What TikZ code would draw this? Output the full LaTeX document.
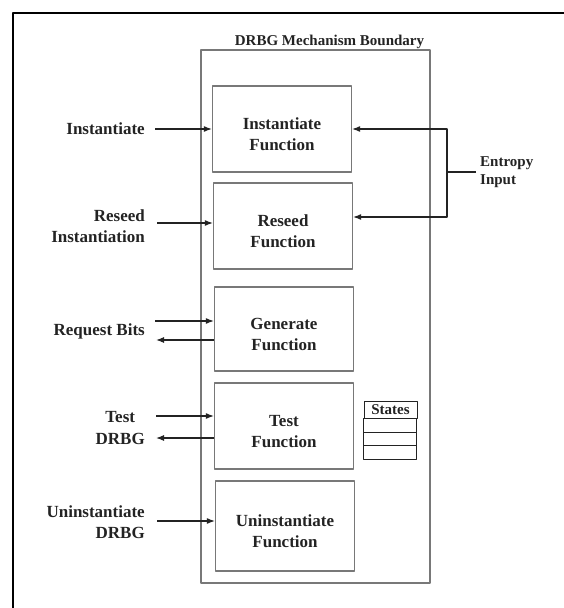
\documentclass[tikz,border=0pt]{standalone}
\usepackage{fontspec}
\setmainfont{Liberation Serif}
\usetikzlibrary{positioning,arrows.meta}
\definecolor{boxgray}{RGB}{120,120,120}
\definecolor{ink}{RGB}{35,35,35}
\tikzset{
  fnbox/.style={draw=boxgray,line width=1.3pt,minimum width=139pt,minimum height=86pt,
    align=center,text height=44pt},
  lbl/.style={anchor=east,align=right,inner sep=0pt},
  conn/.style={draw=ink,line width=1.1pt},
  smallbf/.style={font=\bfseries\fontsize{15}{18}\selectfont}
}
\begin{document}
\begin{tikzpicture}[x=1pt,y=-1pt,>={Latex[length=8pt,width=6pt]},line join=round,text=ink,
    font=\bfseries\fontsize{17}{21.5}\selectfont]
  \useasboundingbox (0,0) rectangle (563,608);
  \draw[line width=2.6pt] (13,610) -- (13,13) -- (565,13);
  % mechanism boundary
  \node[draw=boxgray,line width=1.3pt,minimum width=229pt,minimum height=533pt] (bound) at (315.5,316.5) {};
  \node[smallbf] (title) at (329.5,42) {DRBG Mechanism Boundary};
  % functions
  \node[fnbox] (inst) at (282,129) {Instantiate\\Function};
  \node[fnbox] (reseed) at (283,226) {Reseed\\Function};
  \node[fnbox,minimum height=84pt] (gen) at (284,329) {Generate\\Function};
  \node[fnbox] (test) at (284,426) {Test\\Function};
  \node[fnbox,minimum height=90pt] (uninst) at (285,526) {Uninstantiate\\Function};
  % inputs
  \node[lbl] (linst) at (145,129) {Instantiate};
  \node[lbl] (lreseed) at (145,226) {Reseed\\Instantiation};
  \node[lbl] (lreq) at (145,331) {Request Bits};
  \node[lbl,align=center] (ltest) at (145,428) {Test\\DRBG};
  \node[lbl] (luninst) at (145,522) {Uninstantiate\\DRBG};
  \coordinate (resin) at ([yshift=3pt]reseed.west);
  \coordinate (genin) at ([yshift=8pt]gen.west);
  \coordinate (genout) at ([yshift=-11pt]gen.west);
  \coordinate (testin) at ([yshift=10pt]test.west);
  \coordinate (testout) at ([yshift=-12pt]test.west);
  \coordinate (unin) at ([yshift=5pt]uninst.west);
  \draw[conn,->] (inst.west -| linst.east) ++(10,0) -- (inst.west);
  \draw[conn,->] (resin -| lreseed.east) ++(12,0) -- (resin);
  \draw[conn,->] (genin -| lreq.east) ++(10,0) -- (genin);
  \draw[conn,->] (genout) -- ([xshift=11pt]genout -| lreq.east);
  \draw[conn,->] (testin -| ltest.east) ++(11,0) -- (testin);
  \draw[conn,->] (testout) -- ([xshift=11pt]testout -| ltest.east);
  \draw[conn,->] (unin -| luninst.east) ++(12,0) -- (unin);
  % entropy
  \node[smallbf,anchor=west,align=left,inner sep=0pt] (entropy) at (480,172) {Entropy\\Input};
  \coordinate (ej) at ([xshift=-33pt]entropy.west);
  \draw[conn] ([xshift=-4pt]entropy.west) -- (ej);
  \draw[conn,->] (ej) |- (inst.east);
  \draw[conn,->] (ej) |- ([yshift=9pt]reseed.east);
  % states
  \node[smallbf,draw=ink,line width=0.9pt,minimum width=53pt,minimum height=17pt,inner sep=0pt] (states) at (390.5,409.5) {States};
  \foreach \i in {0,1,2}
    \draw[ink,line width=0.9pt] (states.south west) ++(0,\i*13.7) rectangle ++(53,13.7);
\end{tikzpicture}
\end{document}
